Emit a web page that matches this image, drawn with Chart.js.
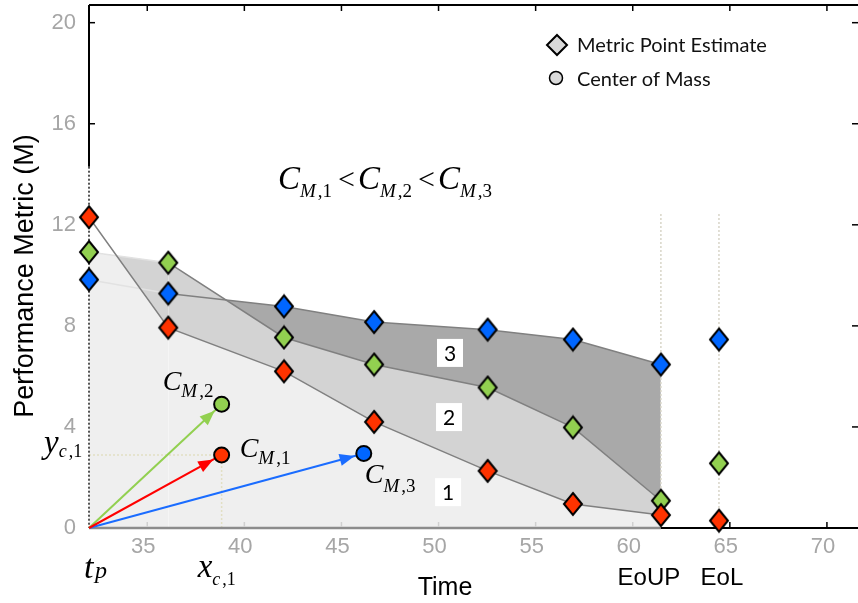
<!DOCTYPE html>
<html>
<head>
<meta charset="utf-8">
<script src="https://cdn.jsdelivr.net/npm/chart.js@4.4.1/dist/chart.umd.min.js"></script>
<style>
  html, body { margin: 0; padding: 0; background: #fff; }
  #chart { display: block; }
</style>
</head>
<body>
<canvas id="chart" width="858" height="603"></canvas>
<script>
// metric estimates at the inspection times, from tp up to EoUP
const inspectTimes = [32, 36.08, 42.04, 46.68, 52.53, 56.92, 61.45];
const redMetric = [12.3, 7.93, 6.2, 4.2, 2.26, 0.95, 0.51];
const greenMetric = [10.92, 10.5, 7.54, 6.47, 5.56, 3.98, 1.08];
const blueMetric = [9.83, 9.28, 8.77, 8.15, 7.85, 7.46, 6.47];

// estimates at end of life (red, green, blue)
const eolTime = 64.44;
const eolMetric = [0.29, 2.56, 7.46];

// centres of mass C_M,1 .. C_M,3
const massX = [38.83, 38.83, 46.15];
const massY = [2.89, 4.9, 2.95];

const tp = 32;
const eoupTime = 61.45;
const xTicks = [35, 40, 45, 50, 55, 60, 65, 70];
const yTicks = [0, 4, 8, 12, 16, 20];

// region numbers
const regionNames = ['1', '2', '3'];
const regionX = [50.49, 50.54, 50.59];
const regionY = [1.42, 4.39, 6.93];

const RED = '#ff3300';
const GREEN = '#92d050';
const BLUE = '#0066ff';
const LINE = '#808080';
const FAINT = '#e2e2e2';

// diamond marker as a small canvas
const diamond = (fill, hw, hh) => {
  const c = document.createElement('canvas');
  c.width = hw * 2 + 4;
  c.height = hh * 2 + 4;
  const g = c.getContext('2d');
  const cx = c.width / 2, cy = c.height / 2;
  g.beginPath();
  g.moveTo(cx, cy - hh);
  g.lineTo(cx + hw, cy);
  g.lineTo(cx, cy + hh);
  g.lineTo(cx - hw, cy);
  g.closePath();
  g.fillStyle = fill;
  g.fill();
  g.lineWidth = 2;
  g.strokeStyle = '#000';
  g.stroke();
  return c;
};
const redDia = diamond(RED, 9, 11);
const greenDia = diamond(GREEN, 9, 11);
const blueDia = diamond(BLUE, 9, 11);

const pts = (xs, ys) => ys.map((v, i) => ({ x: xs[i], y: v }));

// C with italic M subscript, e.g. C_{M,2}
const drawSub = (ctx, x, y, main, subItalic, subPlain, size, subSize, drop) => {
  ctx.textAlign = 'left';
  ctx.textBaseline = 'alphabetic';
  ctx.font = `italic ${size}px "Liberation Serif"`;
  ctx.fillText(main, x, y);
  let cx = x + ctx.measureText(main).width;
  ctx.font = `italic ${subSize}px "Liberation Serif"`;
  ctx.fillText(subItalic, cx, y + drop);
  cx += ctx.measureText(subItalic).width + 2;
  ctx.font = `${subSize}px "Liberation Serif"`;
  ctx.fillText(subPlain, cx, y + drop);
  return cx + ctx.measureText(subPlain).width;
};

const overlay = {
  id: 'overlay',
  beforeDatasetsDraw(chart) {
    const { ctx, chartArea: a, scales: { x, y } } = chart;
    const px = v => x.getPixelForValue(v);
    const py = v => y.getPixelForValue(v);
    const seg = (x1, y1, x2, y2, color, w, dash) => {
      ctx.beginPath();
      ctx.setLineDash(dash || []);
      ctx.strokeStyle = color;
      ctx.lineWidth = w;
      ctx.moveTo(x1, y1);
      ctx.lineTo(x2, y2);
      ctx.stroke();
    };
    ctx.save();
    // guide lines
    seg(px(massX[0]), py(0), px(massX[0]), py(massY[0]), '#e2dfc4', 1.5, [2, 2]);
    seg(px(tp), py(massY[0]), px(massX[0]), py(massY[0]), '#e2dfc4', 1.5, [2, 2]);
    seg(px(eoupTime), py(0), px(eoupTime), py(12.45), '#d8d5c8', 1.5, [2, 2]);
    seg(px(eolTime), py(0), px(eolTime), py(12.45), '#d8d5c8', 1.5, [2, 2]);

    // frame
    seg(a.left, a.top, a.right, a.top, '#000', 2);
    seg(a.left, a.top, a.left, py(14.3), '#000', 2);
    seg(a.left, py(14.3), a.left, py(0), '#555', 2, [2, 2]);
    seg(a.left, py(0), px(eoupTime), py(0), '#8c8c8c', 2.5);
    seg(px(eoupTime), py(0), a.right, py(0), '#000', 2);

    // inner tick marks
    xTicks.forEach(v => {
      seg(px(v), a.top, px(v), a.top + 6, '#000', 1.5);
      seg(px(v), py(0) - 1, px(v), py(0) - 6, v < eoupTime ? '#d0d0d0' : '#000', 1.5);
    });
    yTicks.forEach(v => {
      if (v > 0) seg(a.right, py(v), a.right - 6, py(v), '#000', 1.5);
      if (v > 14.3) seg(a.left, py(v), a.left + 6, py(v), '#000', 1.5);
    });
    ctx.restore();
  },
  afterDatasetsDraw(chart) {
    const { ctx, scales: { x, y } } = chart;
    const px = v => x.getPixelForValue(v);
    const py = v => y.getPixelForValue(v);
    ctx.save();

    // arrow heads from tp to each centre of mass
    const ox = px(tp), oy = py(0);
    ['#ff0000', GREEN, '#1a6cff'].forEach((col, i) => {
      const cx = px(massX[i]), cy = py(massY[i]);
      const len = Math.hypot(cx - ox, cy - oy);
      const dx = (cx - ox) / len, dy = (cy - oy) / len;
      const tx = cx - dx * 9.5, ty = cy - dy * 9.5;
      const bx = tx - dx * 15, by = ty - dy * 15;
      ctx.beginPath();
      ctx.moveTo(tx, ty);
      ctx.lineTo(bx - dy * 6, by + dx * 6);
      ctx.lineTo(bx + dy * 6, by - dx * 6);
      ctx.closePath();
      ctx.fillStyle = col;
      ctx.fill();
    });

    // region numbers in white boxes
    ctx.font = '21px Lato';
    ctx.textAlign = 'center';
    ctx.textBaseline = 'middle';
    regionNames.forEach((t, i) => {
      const cx = px(regionX[i]), cy = py(regionY[i]);
      ctx.fillStyle = '#fff';
      ctx.fillRect(cx - 13, cy - 14, 26, 28);
      ctx.fillStyle = '#000';
      ctx.fillText(t, cx, cy + 1);
    });

    ctx.fillStyle = '#000';
    // centre-of-mass labels
    drawSub(ctx, px(massX[1]) - 59, py(massY[1]) - 14, 'C', 'M', ',2', 28, 19, 7);
    drawSub(ctx, px(massX[0]) + 18, py(massY[0]) + 2, 'C', 'M', ',1', 28, 19, 7);
    drawSub(ctx, px(massX[2]) + 1, py(massY[2]) + 30, 'C', 'M', ',3', 28, 19, 9);

    // inequality between the centres
    let ex = drawSub(ctx, 278, 189, 'C', 'M', ',1', 33, 19, 8);
    ctx.font = '30px "Liberation Serif"';
    ctx.fillText('<', ex + 6, 189);
    ex = drawSub(ctx, ex + 6 + ctx.measureText('<').width + 3, 189, 'C', 'M', ',2', 33, 19, 8);
    ctx.font = '30px "Liberation Serif"';
    ctx.fillText('<', ex + 6, 189);
    drawSub(ctx, ex + 6 + ctx.measureText('<').width + 3, 189, 'C', 'M', ',3', 33, 19, 8);

    // coordinates of C_M,1 and tp
    drawSub(ctx, 44, py(massY[0]) - 2, 'y', 'c', ',1', 33, 18, 4);
    drawSub(ctx, px(massX[0]) - 24, 577, 'x', 'c', ',1', 33, 18, 8);
    ctx.font = 'italic 34px "Liberation Serif"';
    ctx.fillText('t', 84, 578);
    ctx.font = 'italic 24px "Liberation Serif"';
    ctx.fillText('p', 95, 578);

    // axis titles and event labels
    ctx.font = '25px "Liberation Sans"';
    ctx.textAlign = 'center';
    ctx.fillText('Time', 445, 595);
    ctx.font = '24px "Liberation Sans"';
    ctx.fillText('EoUP', px(eoupTime) - 12, 585);
    ctx.fillText('EoL', px(eolTime) + 3, 585);
    ctx.save();
    ctx.translate(33, 276);
    ctx.rotate(-Math.PI / 2);
    ctx.font = '27px "Liberation Sans"';
    ctx.fillText('Performance Metric (M)', 0, 0);
    ctx.restore();

    // legend
    ctx.drawImage(diamond('#d9d9d9', 10, 10), 545, 33);
    ctx.beginPath();
    ctx.arc(556, 78, 6.5, 0, Math.PI * 2);
    ctx.fillStyle = '#d9d9d9';
    ctx.fill();
    ctx.lineWidth = 1.5;
    ctx.strokeStyle = '#000';
    ctx.stroke();
    ctx.fillStyle = '#111';
    ctx.textAlign = 'left';
    ctx.font = '20px Lato';
    ctx.fillText('Metric Point Estimate', 577, 52);
    ctx.fillText('Center of Mass', 577, 86);
    ctx.restore();
  }
};

const tickFont = { family: 'Liberation Sans', size: 22 };

new Chart(document.getElementById('chart'), {
  type: 'line',
  data: {
    datasets: [
      {
        data: pts(massX, massY),
        showLine: false,
        pointStyle: 'circle',
        pointRadius: 7.5,
        pointBorderWidth: 2,
        pointBorderColor: '#000',
        pointBackgroundColor: [RED, GREEN, BLUE]
      },
      { data: [{ x: tp, y: 0 }, { x: massX[0], y: massY[0] }], borderColor: '#ff0000', borderWidth: 2, pointRadius: 0 },
      { data: [{ x: tp, y: 0 }, { x: massX[1], y: massY[1] }], borderColor: GREEN, borderWidth: 2, pointRadius: 0 },
      { data: [{ x: tp, y: 0 }, { x: massX[2], y: massY[2] }], borderColor: '#1a6cff', borderWidth: 2, pointRadius: 0 },
      {
        data: eolMetric.map(v => ({ x: eolTime, y: v })),
        showLine: false,
        pointRadius: 10,
        pointStyle: [redDia, greenDia, blueDia]
      },
      {
        data: pts(inspectTimes, redMetric),
        borderColor: LINE,
        borderWidth: 1.5,
        pointRadius: 10,
        pointStyle: redDia,
        fill: { target: 7, above: 'rgba(0,0,0,0)', below: '#d3d3d3' }
      },
      {
        data: pts(inspectTimes, blueMetric),
        borderColor: LINE,
        borderWidth: 1.5,
        pointRadius: 10,
        pointStyle: blueDia,
        segment: { borderColor: s => (s.p0DataIndex === 0 ? FAINT : undefined) },
        fill: { target: 7, above: '#a9a9a9', below: 'rgba(0,0,0,0)' }
      },
      {
        data: pts(inspectTimes, greenMetric),
        borderColor: LINE,
        borderWidth: 1.5,
        pointRadius: 10,
        pointStyle: greenDia,
        segment: { borderColor: s => (s.p0DataIndex === 0 ? FAINT : undefined) },
        fill: { target: 'origin', above: '#efefef' }
      }
    ]
  },
  options: {
    responsive: false,
    animation: false,
    devicePixelRatio: 1,
    layout: { autoPadding: false, padding: { top: 5, left: 0, right: 0, bottom: 0 } },
    elements: { line: { tension: 0 } },
    datasets: { line: { clip: false } },
    plugins: {
      legend: { display: false },
      tooltip: { enabled: false },
      filler: { drawTime: 'beforeDatasetsDraw' }
    },
    scales: {
      x: {
        type: 'linear',
        min: 32,
        max: 71.6,
        grid: { display: false, drawTicks: false },
        border: { display: false },
        afterBuildTicks: s => { s.ticks = xTicks.map(v => ({ value: v })); },
        afterFit: s => {
          s.height = 75;
          s.paddingLeft = 0;
          s.paddingRight = 0;
        },
        ticks: { color: '#a6a6a6', font: tickFont, padding: 6, labelOffset: -4, maxRotation: 0, autoSkip: false }
      },
      y: {
        min: 0,
        max: 20.7,
        grid: { display: false, drawTicks: false },
        border: { display: false },
        afterBuildTicks: s => { s.ticks = yTicks.map(v => ({ value: v })); },
        afterFit: s => {
          s.width = 89;
          s.paddingTop = 0;
          s.paddingBottom = 0;
        },
        ticks: { color: '#a6a6a6', font: tickFont, padding: 13, autoSkip: false }
      }
    }
  },
  plugins: [overlay]
});
</script>
</body>
</html>
